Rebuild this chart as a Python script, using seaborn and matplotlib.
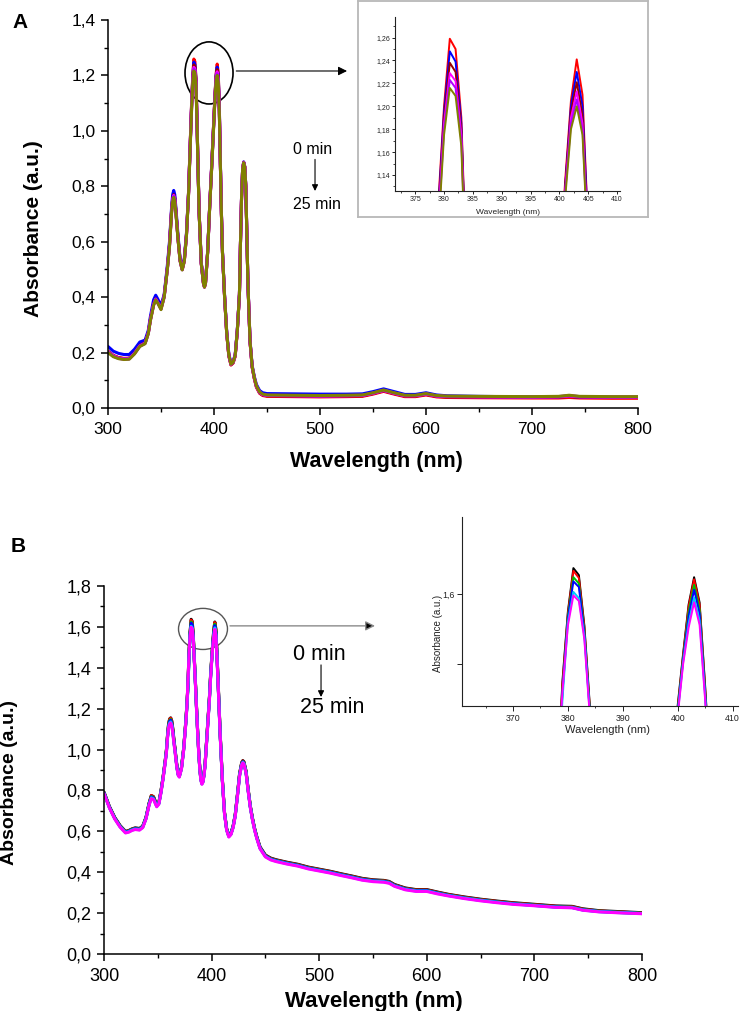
import numpy as np
import pandas as pd
import matplotlib
matplotlib.use("Agg")
import matplotlib.pyplot as plt
from matplotlib.patches import Ellipse
from matplotlib.ticker import MultipleLocator, FuncFormatter, FixedLocator
import seaborn as sns

sns.set_style("ticks")
plt.rcParams['font.family'] = ['Liberation Sans', 'DejaVu Sans']
plt.rcParams.update({"text.color": "black", "axes.labelcolor": "black",
                     "xtick.color": "black", "ytick.color": "black",
                     "axes.edgecolor": "black"})

# ---------------- Panel A data ----------------
A_WL = [300, 305, 310, 315, 320, 325, 330, 335, 338, 340,
        343, 345, 347, 350, 353, 356, 358, 360, 361, 362,
        363, 364, 366, 368, 370, 372, 374, 376, 378, 379,
        380, 381, 382, 383, 384, 385, 386, 388, 390, 391,
        392, 394, 396, 398, 400, 401, 402, 403, 404, 405,
        406, 407, 408, 410, 412, 414, 416, 418, 420, 422,
        424, 425, 426, 427, 428, 429, 430, 432, 434, 436,
        438, 440, 443, 446, 450, 475, 500, 525, 540, 550,
        560, 570, 580, 590, 600, 610, 620, 650, 700, 725,
        735, 745, 775, 800]

A_RED = [0.205, 0.190, 0.182, 0.179, 0.180, 0.200, 0.226, 0.236, 0.272, 0.320,
         0.375, 0.395, 0.382, 0.360, 0.404, 0.505, 0.590, 0.715, 0.758, 0.775,
         0.760, 0.715, 0.615, 0.533, 0.500, 0.532, 0.625, 0.780, 1.005, 1.115,
         1.200, 1.259, 1.250, 1.190, 1.035, 0.860, 0.705, 0.522, 0.452, 0.437,
         0.452, 0.563, 0.735, 0.890, 1.055, 1.135, 1.205, 1.241, 1.210, 1.090,
         0.885, 0.700, 0.560, 0.400, 0.268, 0.188, 0.155, 0.162, 0.187, 0.278,
         0.410, 0.600, 0.760, 0.862, 0.887, 0.870, 0.800, 0.448, 0.238, 0.147,
         0.106, 0.075, 0.053, 0.045, 0.042, 0.041, 0.040, 0.041, 0.042, 0.050,
         0.060, 0.050, 0.041, 0.041, 0.047, 0.040, 0.038, 0.037, 0.036, 0.036,
         0.038, 0.036, 0.035, 0.035]
A_BLUE = [0.222, 0.205, 0.197, 0.193, 0.193, 0.212, 0.238, 0.245, 0.280, 0.330,
          0.390, 0.407, 0.393, 0.370, 0.410, 0.515, 0.600, 0.725, 0.770, 0.785,
          0.770, 0.725, 0.625, 0.540, 0.505, 0.540, 0.630, 0.780, 1.000, 1.110,
          1.195, 1.248, 1.239, 1.185, 1.030, 0.860, 0.705, 0.525, 0.455, 0.440,
          0.455, 0.565, 0.735, 0.890, 1.050, 1.130, 1.200, 1.230, 1.200, 1.090,
          0.890, 0.705, 0.565, 0.405, 0.275, 0.195, 0.162, 0.168, 0.193, 0.283,
          0.412, 0.600, 0.762, 0.862, 0.888, 0.872, 0.802, 0.452, 0.243, 0.153,
          0.114, 0.085, 0.063, 0.055, 0.052, 0.051, 0.050, 0.050, 0.051, 0.059,
          0.069, 0.059, 0.049, 0.049, 0.055, 0.047, 0.044, 0.042, 0.040, 0.040,
          0.043, 0.039, 0.038, 0.038]
A_DARKRED = [0.204, 0.189, 0.181, 0.178, 0.179, 0.198, 0.225, 0.235, 0.271, 0.319,
             0.374, 0.394, 0.381, 0.359, 0.403, 0.503, 0.587, 0.712, 0.754, 0.770,
             0.755, 0.712, 0.614, 0.533, 0.500, 0.532, 0.623, 0.776, 1.000, 1.105,
             1.190, 1.238, 1.230, 1.180, 1.030, 0.855, 0.703, 0.522, 0.452, 0.437,
             0.452, 0.562, 0.733, 0.885, 1.050, 1.130, 1.195, 1.221, 1.192, 1.080,
             0.883, 0.700, 0.560, 0.400, 0.269, 0.189, 0.156, 0.163, 0.188, 0.279,
             0.410, 0.600, 0.760, 0.861, 0.886, 0.870, 0.800, 0.449, 0.239, 0.148,
             0.108, 0.077, 0.055, 0.047, 0.044, 0.043, 0.042, 0.043, 0.044, 0.052,
             0.062, 0.052, 0.043, 0.043, 0.049, 0.042, 0.040, 0.039, 0.038, 0.039,
             0.042, 0.039, 0.038, 0.038]
A_MAGENTA = [0.203, 0.188, 0.180, 0.177, 0.178, 0.197, 0.224, 0.234, 0.270, 0.318,
             0.373, 0.393, 0.380, 0.358, 0.402, 0.502, 0.585, 0.710, 0.751, 0.767,
             0.752, 0.710, 0.613, 0.532, 0.499, 0.531, 0.622, 0.774, 0.997, 1.100,
             1.185, 1.229, 1.222, 1.175, 1.027, 0.853, 0.702, 0.521, 0.451, 0.437,
             0.451, 0.561, 0.732, 0.883, 1.047, 1.125, 1.190, 1.213, 1.185, 1.077,
             0.882, 0.700, 0.560, 0.400, 0.269, 0.189, 0.157, 0.164, 0.189, 0.279,
             0.410, 0.600, 0.760, 0.861, 0.886, 0.870, 0.800, 0.449, 0.239, 0.149,
             0.109, 0.078, 0.056, 0.048, 0.045, 0.044, 0.043, 0.044, 0.045, 0.053,
             0.063, 0.053, 0.044, 0.044, 0.050, 0.043, 0.041, 0.040, 0.039, 0.040,
             0.043, 0.040, 0.039, 0.039]
A_VIOLET = [0.202, 0.187, 0.179, 0.176, 0.177, 0.196, 0.223, 0.233, 0.269, 0.317,
            0.372, 0.392, 0.379, 0.357, 0.401, 0.501, 0.583, 0.708, 0.748, 0.764,
            0.749, 0.708, 0.612, 0.531, 0.499, 0.531, 0.621, 0.772, 0.994, 1.095,
            1.180, 1.223, 1.216, 1.170, 1.024, 0.852, 0.701, 0.521, 0.451, 0.436,
            0.451, 0.561, 0.731, 0.882, 1.044, 1.125, 1.185, 1.206, 1.180, 1.074,
            0.881, 0.700, 0.560, 0.400, 0.270, 0.190, 0.158, 0.165, 0.190, 0.280,
            0.410, 0.600, 0.760, 0.860, 0.885, 0.870, 0.800, 0.450, 0.240, 0.150,
            0.110, 0.079, 0.057, 0.049, 0.046, 0.045, 0.044, 0.045, 0.046, 0.054,
            0.064, 0.054, 0.045, 0.045, 0.051, 0.044, 0.042, 0.041, 0.040, 0.041,
            0.045, 0.041, 0.040, 0.040]
A_OLIVE = [0.200, 0.185, 0.178, 0.175, 0.176, 0.195, 0.222, 0.232, 0.268, 0.315,
           0.370, 0.390, 0.378, 0.355, 0.400, 0.500, 0.580, 0.705, 0.745, 0.760,
           0.745, 0.705, 0.610, 0.530, 0.498, 0.530, 0.620, 0.770, 0.990, 1.090,
           1.175, 1.216, 1.209, 1.165, 1.020, 0.850, 0.700, 0.520, 0.450, 0.436,
           0.450, 0.560, 0.730, 0.880, 1.040, 1.120, 1.180, 1.200, 1.175, 1.070,
           0.880, 0.700, 0.560, 0.400, 0.270, 0.190, 0.158, 0.165, 0.190, 0.280,
           0.410, 0.600, 0.760, 0.860, 0.885, 0.870, 0.800, 0.450, 0.240, 0.150,
           0.110, 0.080, 0.058, 0.050, 0.047, 0.046, 0.045, 0.046, 0.047, 0.055,
           0.065, 0.055, 0.046, 0.046, 0.052, 0.045, 0.043, 0.042, 0.041, 0.042,
           0.046, 0.042, 0.041, 0.041]

A_NAMES = ["red", "blue", "darkred", "magenta", "violet", "olive"]
A_SERIES = [A_RED, A_BLUE, A_DARKRED, A_MAGENTA, A_VIOLET, A_OLIVE]
A_COLORS = ["#ff0000", "#0000ff", "#990000", "#ff00ff", "#b000ff", "#808000"]

# ---------------- Panel B data ----------------
B_WL = [300, 305, 310, 315, 320, 323, 326, 329, 333, 336,
        339, 342, 344, 346, 349, 351, 353, 355, 357, 358,
        359, 360, 361, 362, 363, 364, 365, 366, 367, 368,
        369, 370, 372, 374, 376, 377, 378, 379, 380, 381,
        382, 383, 384, 385, 386, 387, 388, 389, 390, 391,
        392, 393, 394, 396, 398, 399, 400, 401, 402, 403,
        404, 405, 406, 407, 408, 410, 412, 414, 416, 418,
        420, 422, 424, 426, 428, 429, 430, 432, 434, 436,
        438, 440, 442, 445, 450, 455, 460, 470, 480, 490,
        500, 510, 520, 530, 540, 550, 560, 565, 570, 580,
        590, 600, 610, 620, 635, 650, 665, 680, 700, 720,
        735, 745, 760, 780, 800]

B_BLACK = [0.792, 0.722, 0.668, 0.628, 0.600, 0.604, 0.612, 0.617, 0.614, 0.626,
           0.668, 0.740, 0.775, 0.770, 0.730, 0.742, 0.800, 0.870, 0.952, 0.998,
           1.068, 1.125, 1.150, 1.155, 1.140, 1.100, 1.048, 1.005, 0.955, 0.913,
           0.882, 0.873, 0.913, 1.005, 1.137, 1.218, 1.315, 1.475, 1.575, 1.637,
           1.627, 1.555, 1.440, 1.328, 1.207, 1.095, 0.995, 0.914, 0.859, 0.838,
           0.848, 0.884, 0.935, 1.097, 1.258, 1.360, 1.440, 1.515, 1.585, 1.624,
           1.588, 1.470, 1.340, 1.208, 1.076, 0.855, 0.693, 0.613, 0.580, 0.592,
           0.626, 0.684, 0.780, 0.882, 0.937, 0.946, 0.941, 0.895, 0.805, 0.724,
           0.664, 0.614, 0.574, 0.524, 0.484, 0.469, 0.461, 0.449, 0.439, 0.425,
           0.415, 0.405, 0.393, 0.382, 0.370, 0.363, 0.360, 0.355, 0.340, 0.323,
           0.315, 0.315, 0.303, 0.292, 0.279, 0.268, 0.259, 0.251, 0.243, 0.235,
           0.233, 0.221, 0.212, 0.207, 0.202]
B_RED = [0.790, 0.720, 0.666, 0.626, 0.598, 0.602, 0.610, 0.615, 0.612, 0.624,
         0.666, 0.738, 0.775, 0.768, 0.728, 0.740, 0.798, 0.868, 0.950, 0.996,
         1.066, 1.122, 1.148, 1.153, 1.137, 1.097, 1.045, 1.002, 0.952, 0.910,
         0.880, 0.871, 0.911, 1.003, 1.135, 1.215, 1.312, 1.470, 1.572, 1.633,
         1.623, 1.552, 1.437, 1.325, 1.205, 1.093, 0.993, 0.912, 0.857, 0.836,
         0.846, 0.882, 0.933, 1.095, 1.256, 1.357, 1.437, 1.512, 1.582, 1.621,
         1.585, 1.467, 1.337, 1.205, 1.074, 0.853, 0.691, 0.611, 0.578, 0.590,
         0.624, 0.682, 0.778, 0.880, 0.935, 0.944, 0.939, 0.893, 0.803, 0.722,
         0.662, 0.612, 0.572, 0.522, 0.482, 0.467, 0.459, 0.447, 0.437, 0.423,
         0.413, 0.403, 0.391, 0.380, 0.368, 0.361, 0.358, 0.353, 0.338, 0.321,
         0.313, 0.313, 0.301, 0.290, 0.277, 0.266, 0.257, 0.249, 0.241, 0.233,
         0.231, 0.219, 0.210, 0.205, 0.200]
B_GREEN = [0.789, 0.719, 0.665, 0.625, 0.597, 0.601, 0.609, 0.614, 0.611, 0.623,
           0.665, 0.736, 0.770, 0.765, 0.726, 0.738, 0.796, 0.866, 0.947, 0.993,
           1.062, 1.117, 1.142, 1.147, 1.131, 1.092, 1.041, 0.999, 0.950, 0.908,
           0.878, 0.870, 0.910, 1.001, 1.132, 1.212, 1.308, 1.462, 1.568, 1.624,
           1.615, 1.547, 1.433, 1.322, 1.202, 1.091, 0.991, 0.910, 0.855, 0.835,
           0.845, 0.880, 0.931, 1.092, 1.253, 1.353, 1.433, 1.508, 1.575, 1.613,
           1.578, 1.462, 1.333, 1.202, 1.071, 0.851, 0.690, 0.610, 0.577, 0.589,
           0.623, 0.680, 0.776, 0.877, 0.932, 0.941, 0.936, 0.891, 0.801, 0.720,
           0.660, 0.610, 0.570, 0.520, 0.480, 0.465, 0.457, 0.445, 0.435, 0.421,
           0.411, 0.401, 0.389, 0.378, 0.366, 0.359, 0.356, 0.351, 0.336, 0.319,
           0.311, 0.311, 0.299, 0.288, 0.275, 0.264, 0.255, 0.247, 0.239, 0.231,
           0.229, 0.217, 0.209, 0.204, 0.199]
B_BLUE = [0.788, 0.718, 0.664, 0.624, 0.596, 0.600, 0.608, 0.613, 0.610, 0.622,
          0.664, 0.735, 0.768, 0.763, 0.724, 0.737, 0.794, 0.864, 0.945, 0.991,
          1.060, 1.113, 1.138, 1.143, 1.127, 1.088, 1.038, 0.997, 0.948, 0.906,
          0.877, 0.869, 0.909, 0.999, 1.130, 1.210, 1.305, 1.458, 1.565, 1.618,
          1.610, 1.544, 1.431, 1.320, 1.200, 1.089, 0.989, 0.909, 0.854, 0.834,
          0.844, 0.879, 0.930, 1.090, 1.251, 1.351, 1.431, 1.506, 1.568, 1.606,
          1.572, 1.459, 1.331, 1.200, 1.069, 0.849, 0.689, 0.609, 0.576, 0.588,
          0.622, 0.679, 0.774, 0.875, 0.930, 0.940, 0.934, 0.889, 0.799, 0.719,
          0.659, 0.609, 0.569, 0.519, 0.479, 0.464, 0.456, 0.444, 0.434, 0.420,
          0.410, 0.400, 0.388, 0.377, 0.365, 0.358, 0.355, 0.350, 0.335, 0.318,
          0.310, 0.310, 0.298, 0.287, 0.274, 0.263, 0.254, 0.246, 0.238, 0.230,
          0.228, 0.216, 0.208, 0.203, 0.198]
B_CYAN = [0.786, 0.716, 0.662, 0.622, 0.594, 0.598, 0.606, 0.611, 0.608, 0.620,
          0.662, 0.732, 0.764, 0.759, 0.722, 0.735, 0.792, 0.862, 0.942, 0.988,
          1.057, 1.108, 1.130, 1.135, 1.120, 1.082, 1.033, 0.993, 0.945, 0.904,
          0.875, 0.867, 0.907, 0.997, 1.127, 1.207, 1.302, 1.448, 1.560, 1.603,
          1.594, 1.539, 1.428, 1.317, 1.197, 1.087, 0.987, 0.907, 0.852, 0.832,
          0.842, 0.877, 0.927, 1.087, 1.248, 1.348, 1.428, 1.503, 1.558, 1.595,
          1.562, 1.454, 1.328, 1.197, 1.067, 0.847, 0.687, 0.607, 0.574, 0.586,
          0.620, 0.677, 0.772, 0.872, 0.927, 0.937, 0.932, 0.887, 0.797, 0.717,
          0.657, 0.607, 0.567, 0.517, 0.477, 0.462, 0.454, 0.442, 0.432, 0.418,
          0.408, 0.398, 0.386, 0.375, 0.363, 0.356, 0.353, 0.348, 0.333, 0.316,
          0.308, 0.308, 0.296, 0.286, 0.273, 0.262, 0.253, 0.245, 0.237, 0.229,
          0.227, 0.215, 0.207, 0.202, 0.198]
B_MAGENTA = [0.785, 0.715, 0.660, 0.620, 0.592, 0.596, 0.604, 0.609, 0.606, 0.618,
             0.660, 0.730, 0.760, 0.756, 0.720, 0.733, 0.790, 0.860, 0.940, 0.985,
             1.055, 1.105, 1.125, 1.130, 1.115, 1.078, 1.030, 0.990, 0.942, 0.902,
             0.873, 0.865, 0.905, 0.995, 1.125, 1.205, 1.330, 1.460, 1.555, 1.598,
             1.590, 1.535, 1.425, 1.315, 1.195, 1.085, 0.985, 0.905, 0.850, 0.830,
             0.840, 0.875, 0.925, 1.085, 1.245, 1.345, 1.425, 1.500, 1.552, 1.588,
             1.556, 1.450, 1.325, 1.195, 1.065, 0.845, 0.685, 0.605, 0.572, 0.584,
             0.618, 0.675, 0.770, 0.870, 0.925, 0.935, 0.930, 0.885, 0.795, 0.715,
             0.655, 0.605, 0.565, 0.515, 0.475, 0.460, 0.452, 0.440, 0.430, 0.416,
             0.406, 0.396, 0.384, 0.373, 0.361, 0.354, 0.351, 0.346, 0.331, 0.314,
             0.306, 0.306, 0.294, 0.284, 0.271, 0.260, 0.251, 0.243, 0.236, 0.228,
             0.226, 0.214, 0.206, 0.201, 0.197]

B_NAMES = ["black", "red", "green", "blue", "cyan", "magenta"]
B_SERIES = [B_BLACK, B_RED, B_GREEN, B_BLUE, B_CYAN, B_MAGENTA]
B_COLORS = ["#000000", "#ff0000", "#00c000", "#0000ff", "#00c8ff", "#ff00ff"]

# ---------------- Tick / label text ----------------
X_LABEL = "Wavelength (nm)"
Y_LABEL = "Absorbance (a.u.)"
TIME_START = "0 min"
TIME_END = "25 min"


def long_frame(wl, names, series):
    rows = []
    for name, vals in zip(names, series):
        assert len(vals) == len(wl), name
        rows.append(pd.DataFrame({"wl": wl, "absorb": vals, "series": name}))
    return pd.concat(rows, ignore_index=True)


dfA = long_frame(A_WL, A_NAMES, A_SERIES)
dfB = long_frame(B_WL, B_NAMES, B_SERIES)
palA = dict(zip(A_NAMES, A_COLORS))
palB = dict(zip(B_NAMES, B_COLORS))

W, H = 754, 1011
fig = plt.figure(figsize=(W / 100, H / 100), dpi=100)


def box(l, t, r, b):
    return [l / W, 1 - b / H, (r - l) / W, (b - t) / H]


def comma(fmt):
    return FuncFormatter(lambda v, p: fmt.format(v).replace('.', ','))


def style_main(ax, labelsize):
    for s in ["top", "right"]:
        ax.spines[s].set_visible(False)
    for s in ["left", "bottom"]:
        ax.spines[s].set_linewidth(1.1)
        ax.spines[s].set_color("black")
    ax.tick_params(which="major", direction="out", length=5, width=1.1,
                   labelsize=labelsize, pad=4, colors="black")
    ax.tick_params(axis="x", which="major", pad=5)
    ax.tick_params(which="minor", direction="out", length=2.8, width=1.0,
                   colors="black")


def style_inset(ax, labelsize):
    for s in ["top", "right"]:
        ax.spines[s].set_visible(False)
    for s in ["left", "bottom"]:
        ax.spines[s].set_linewidth(0.8)
        ax.spines[s].set_color("#222222")
    ax.tick_params(which="major", direction="out", length=2.5, width=0.7,
                   labelsize=labelsize, pad=1.2, colors="#222222")
    ax.tick_params(which="minor", direction="out", length=1.5, width=0.6,
                   colors="#222222")


# ======================= Panel A =======================
axA = fig.add_axes(box(108, 20, 638, 408))
sns.lineplot(data=dfA, x="wl", y="absorb", hue="series", hue_order=A_NAMES,
             palette=palA, estimator=None, sort=False, linewidth=2.2,
             legend=False, ax=axA)
axA.set_xlim(300, 800)
axA.set_ylim(0, 1.4)
axA.xaxis.set_major_locator(MultipleLocator(100))
axA.xaxis.set_minor_locator(MultipleLocator(50))
axA.yaxis.set_major_locator(MultipleLocator(0.2))
axA.yaxis.set_minor_locator(MultipleLocator(0.1))
axA.yaxis.set_major_formatter(comma("{:.1f}"))
style_main(axA, 12.5)
axA.set_xlabel(X_LABEL, fontsize=15.5, fontweight="bold", color="black")
axA.set_ylabel(Y_LABEL, fontsize=15, fontweight="bold", color="black")
axA.xaxis.label.set_va("center")
axA.yaxis.label.set_va("center")
axA.xaxis.set_label_coords(0.506, -0.139)
axA.yaxis.set_label_coords(-0.1415, 0.463)

axA.add_patch(Ellipse((395.3, 1.209), 45.3, 0.224, fill=False, ec="black",
                      lw=1.2, clip_on=False))
axA.annotate("", xy=(525.5, 1.216), xytext=(421.0, 1.216),
             arrowprops=dict(arrowstyle="-|>", color="black", lw=0.8,
                             mutation_scale=13, shrinkA=0, shrinkB=0))
axA.text(474.5, 0.931, TIME_START, fontsize=11.5, va="center", ha="left",
         color="black")
axA.text(474.5, 0.733, TIME_END, fontsize=11.5, va="center", ha="left",
         color="black")
axA.annotate("", xy=(495.3, 0.783), xytext=(495.3, 0.897),
             arrowprops=dict(arrowstyle="-|>", color="black", lw=0.8,
                             mutation_scale=9, shrinkA=0, shrinkB=0))
fig.text(20 / W, 1 - 22 / H, "A", fontsize=15, fontweight="bold",
         ha="center", va="center", color="black")

# inset A frame + inset
frameA = fig.add_axes(box(358, 1, 648, 217))
frameA.set_zorder(2)
frameA.set_xticks([])
frameA.set_yticks([])
frameA.set_facecolor("white")
for s in frameA.spines.values():
    s.set_color("#b8b8b8")
    s.set_linewidth(1.3)

insA = fig.add_axes(box(395, 17, 620, 191))
insA.set_zorder(3)
insA.set_facecolor("none")
sns.lineplot(data=dfA, x="wl", y="absorb", hue="series", hue_order=A_NAMES,
             palette=palA, estimator=None, sort=False, linewidth=1.4,
             legend=False, ax=insA)
insA.set_xlim(371.5, 410.5)
insA.set_ylim(1.126, 1.278)
insA.xaxis.set_major_locator(MultipleLocator(5))
insA.xaxis.set_minor_locator(MultipleLocator(2.5))
insA.yaxis.set_major_locator(MultipleLocator(0.02))
insA.yaxis.set_minor_locator(MultipleLocator(0.01))
insA.yaxis.set_major_formatter(comma("{:.2f}"))
style_inset(insA, 5)
insA.set_xlabel(X_LABEL, fontsize=6, color="#222222")
insA.set_ylabel("")
insA.xaxis.label.set_va("center")
insA.xaxis.set_label_coords(0.502, -0.122)

# ======================= Panel B =======================
axB = fig.add_axes(box(104, 586, 642, 954))
sns.lineplot(data=dfB, x="wl", y="absorb", hue="series", hue_order=B_NAMES,
             palette=palB, estimator=None, sort=False, linewidth=2.2,
             legend=False, ax=axB)
axB.set_xlim(300, 800)
axB.set_ylim(0, 1.8)
axB.xaxis.set_major_locator(MultipleLocator(100))
axB.xaxis.set_minor_locator(MultipleLocator(50))
axB.yaxis.set_major_locator(MultipleLocator(0.2))
axB.yaxis.set_minor_locator(MultipleLocator(0.1))
axB.yaxis.set_major_formatter(comma("{:.1f}"))
style_main(axB, 13)
axB.set_xlabel(X_LABEL, fontsize=16, fontweight="bold", color="black")
axB.set_ylabel(Y_LABEL, fontsize=14, fontweight="bold", color="black")
axB.xaxis.label.set_va("center")
axB.yaxis.label.set_va("center")
axB.xaxis.set_label_coords(0.5007, -0.130)
axB.yaxis.set_label_coords(-0.175, 0.466)

axB.add_patch(Ellipse((392.0, 1.590), 45.5, 0.201, fill=False, ec="#555555",
                      lw=1.0, clip_on=False))
axB.annotate("", xy=(551.9, 1.605), xytext=(417.1, 1.605),
             arrowprops=dict(arrowstyle="-|>", ec="#8a8a8a", fc="black",
                             lw=1.0, mutation_scale=14, shrinkA=0, shrinkB=0))
axB.text(475.6, 1.463, TIME_START, fontsize=15.5, va="center", ha="left",
         color="black")
axB.text(482.2, 1.204, TIME_END, fontsize=15.5, va="center", ha="left",
         color="black")
axB.annotate("", xy=(501.7, 1.257), xytext=(501.7, 1.414),
             arrowprops=dict(arrowstyle="-|>", color="black", lw=0.8,
                             mutation_scale=9, shrinkA=0, shrinkB=0))
fig.text(18 / W, 1 - 547 / H, "B", fontsize=15, fontweight="bold",
         ha="center", va="center", color="black")

insB = fig.add_axes(box(462, 517, 738, 706))
insB.set_zorder(3)
insB.set_facecolor("none")
sns.lineplot(data=dfB, x="wl", y="absorb", hue="series", hue_order=B_NAMES,
             palette=palB, estimator=None, sort=False, linewidth=1.4,
             legend=False, ax=insB)
insB.set_xlim(360.7, 411)
insB.set_ylim(1.44, 1.71)
insB.xaxis.set_major_locator(MultipleLocator(10))
insB.xaxis.set_minor_locator(MultipleLocator(5))
insB.yaxis.set_major_locator(FixedLocator([1.5, 1.6]))
insB.yaxis.set_major_formatter(FuncFormatter(
    lambda v, p: "1,6" if abs(v - 1.6) < 1e-6 else ""))
style_inset(insB, 6.3)
insB.tick_params(which="major", length=3.5, pad=2)
insB.set_xlabel(X_LABEL, fontsize=8, color="#222222")
insB.set_ylabel(Y_LABEL, fontsize=7, color="#222222")
insB.xaxis.label.set_va("center")
insB.yaxis.label.set_va("center")
insB.xaxis.set_label_coords(0.528, -0.127)
insB.yaxis.set_label_coords(-0.087, 0.386)

fig.savefig("out.png", dpi=100, facecolor="white")
